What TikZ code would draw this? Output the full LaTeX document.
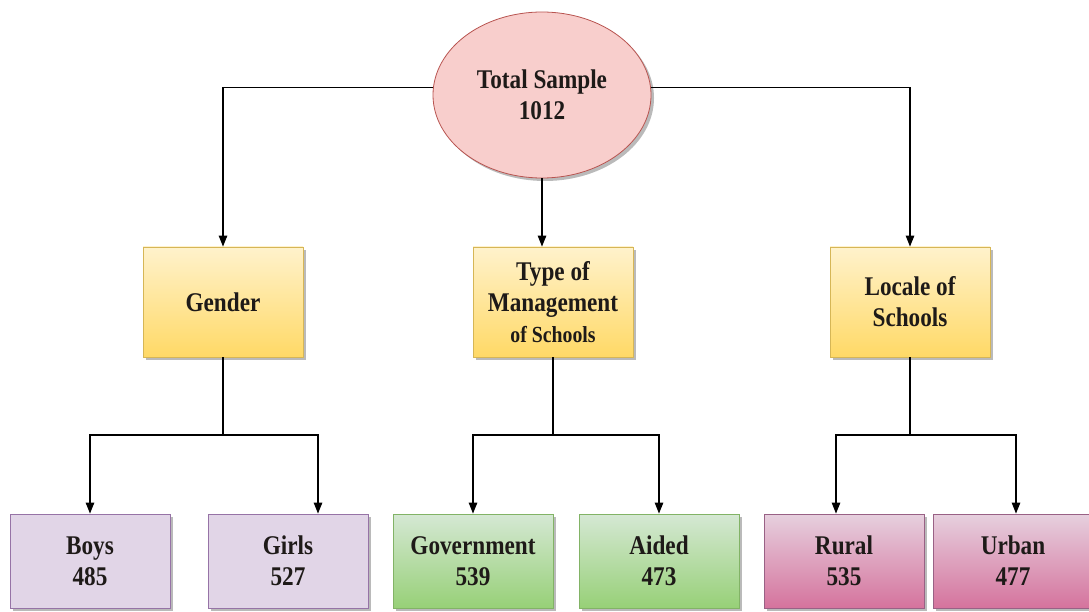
\documentclass[tikz,border=0pt]{standalone}
\usepackage{fontspec}
\setmainfont{Liberation Serif}[FakeStretch=0.86]
\usetikzlibrary{shapes.geometric,shadows,arrows.meta}

\definecolor{ellfill}{HTML}{F8CECC}
\definecolor{ellbord}{HTML}{B85450}
\definecolor{ytop}{HTML}{FFF2CC}
\definecolor{ybot}{HTML}{FFD966}
\definecolor{ybord}{HTML}{D6B656}
\definecolor{pfill}{HTML}{E1D5E7}
\definecolor{pbord}{HTML}{9673A6}
\definecolor{gtop}{HTML}{D5E8D4}
\definecolor{gbot}{HTML}{97D077}
\definecolor{gbord}{HTML}{82B366}
\definecolor{rtop}{HTML}{E6D0DE}
\definecolor{rbot}{HTML}{D5739D}
\definecolor{rbord}{HTML}{996185}
\definecolor{ink}{HTML}{1E1A18}

\begin{document}
\begin{tikzpicture}[x=1pt,y=-1pt,
  lbl/.style={font=\bfseries\fontsize{27}{31}\selectfont, text=ink, align=center},
  shd/.style={drop shadow={shadow xshift=3pt,shadow yshift=-3pt,opacity=0.45,fill=black!60}},
  box/.style={lbl, shd, rectangle, minimum width=160pt, line width=0.8pt, inner sep=2pt},
  cat/.style={box, minimum height=110pt, draw=ybord, top color=ytop, bottom color=ybot},
  leafp/.style={box, minimum height=94pt, draw=pbord, fill=pfill},
  leafg/.style={box, minimum height=94pt, draw=gbord, top color=gtop, bottom color=gbot},
  leafr/.style={box, minimum height=94pt, draw=rbord, top color=rtop, bottom color=rbot},
  arr/.style={-{Triangle[length=11pt,width=8.5pt]}, line width=1.2pt},
  ln/.style={line width=1.2pt}
]
\useasboundingbox (0,0) rectangle (1089,612);

% root
\node[lbl, shd, ellipse, draw=ellbord, fill=ellfill, line width=0.8pt,
      minimum width=218pt, minimum height=166pt, inner sep=0pt]
      (total) at (542,95) {Total Sample\\1012};

% categories
\node[cat] (gender) at (223,302) {Gender};
\node[cat] (type)   at (553,302) {Type of\\Management\\{\fontsize{23}{31}\selectfont of Schools}};
\node[cat] (locale) at (910,302) {Locale of\\Schools};

% leaves
\node[leafp] (boys)  at (90,561)   {Boys\\485};
\node[leafp] (girls) at (288,561)  {Girls\\527};
\node[leafg] (gov)   at (473,561)  {Government\\539};
\node[leafg] (aided) at (659,561)  {Aided\\473};
\node[leafr] (rural) at (844,561)  {Rural\\535};
\node[leafr] (urban) at (1013,561) {Urban\\477};

% branch points
\coordinate (gj) at (223,435);
\coordinate (tj) at (553,435);
\coordinate (lj) at (910,435);

% root to categories
\draw[arr] (total.176) -| (gender.north);
\draw[arr] (total.south) -- (total.south |- type.north);
\draw[arr] (total.4) -| (locale.north);

% categories to leaves
\draw[ln] (gender.south) -- (gj);
\draw[arr] (gj) -| (boys.north);
\draw[arr] (gj) -| ([xshift=30pt]girls.north);

\draw[ln] (type.south) -- (tj);
\draw[arr] (tj) -| (gov.north);
\draw[arr] (tj) -| (aided.north);

\draw[ln] (locale.south) -- (lj);
\draw[arr] (lj) -| ([xshift=-8pt]rural.north);
\draw[arr] (lj) -| ([xshift=3pt]urban.north);
\end{tikzpicture}
\end{document}
